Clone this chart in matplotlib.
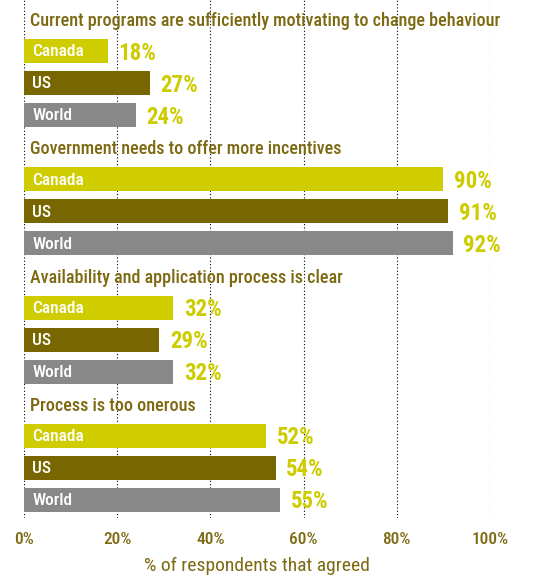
import matplotlib.pyplot as plt
import numpy as np

# survey data
questions = [
    "Current programs are sufficiently motivating to change behaviour",
    "Government needs to offer more incentives",
    "Availability and application process is clear",
    "Process is too onerous",
]
regions = ["Canada", "US", "World"]
canada = [18, 90, 32, 52]
us = [27, 91, 29, 54]
world = [24, 92, 32, 55]

colors = {"Canada": "#cfcd00", "US": "#786600", "World": "#888888"}
olive = "#7d6a12"
label_col = "#cccc00"
plt.rcParams['font.family'] = ["Roboto Condensed", "DejaVu Sans"]

fig = plt.figure(figsize=(5.37, 5.77), dpi=100)
ax = fig.add_axes([24 / 537, 1 - 518 / 577, 466 / 537, 518 / 577])

values = {"Canada": canada, "US": us, "World": world}
group_step = 128.3
for g, q in enumerate(questions):
    ty = 21 + group_step * g
    ax.text(1.2, ty, q, color=olive, fontsize=13, fontweight="medium", va="center", ha="left")
    for i, r in enumerate(regions):
        y = ty + 30 + 32 * i
        v = values[r][g]
        ax.barh(y, v, height=24, color=colors[r], zorder=2)
        ax.text(1.8, y + 1, r, color="white", fontsize=12.5, fontweight="medium",
                va="center", ha="left", zorder=3)
        ax.text(v + 2.3, y + 2, f"{v}%", color=label_col, fontsize=16.5, fontweight="bold",
                va="center", ha="left", zorder=3)

ax.set_xlim(0, 100)
ax.set_ylim(518, 0)
ax.set_xticks(np.arange(0, 101, 20))
ax.set_xticklabels([f"{t}%" for t in range(0, 101, 20)], color=olive, fontsize=12.5,
                   fontweight="medium")
ax.set_yticks([])
ax.tick_params(axis="x", length=0, pad=10)
for s in ax.spines.values():
    s.set_visible(False)
ax.grid(axis="x", color="black", linestyle=(0, (1, 2)), linewidth=0.8, zorder=0)
ax.set_axisbelow(True)
ax.set_xlabel("% of respondents that agreed", color=olive, fontsize=14, labelpad=7.5)

fig.savefig("out.png", dpi=100)
